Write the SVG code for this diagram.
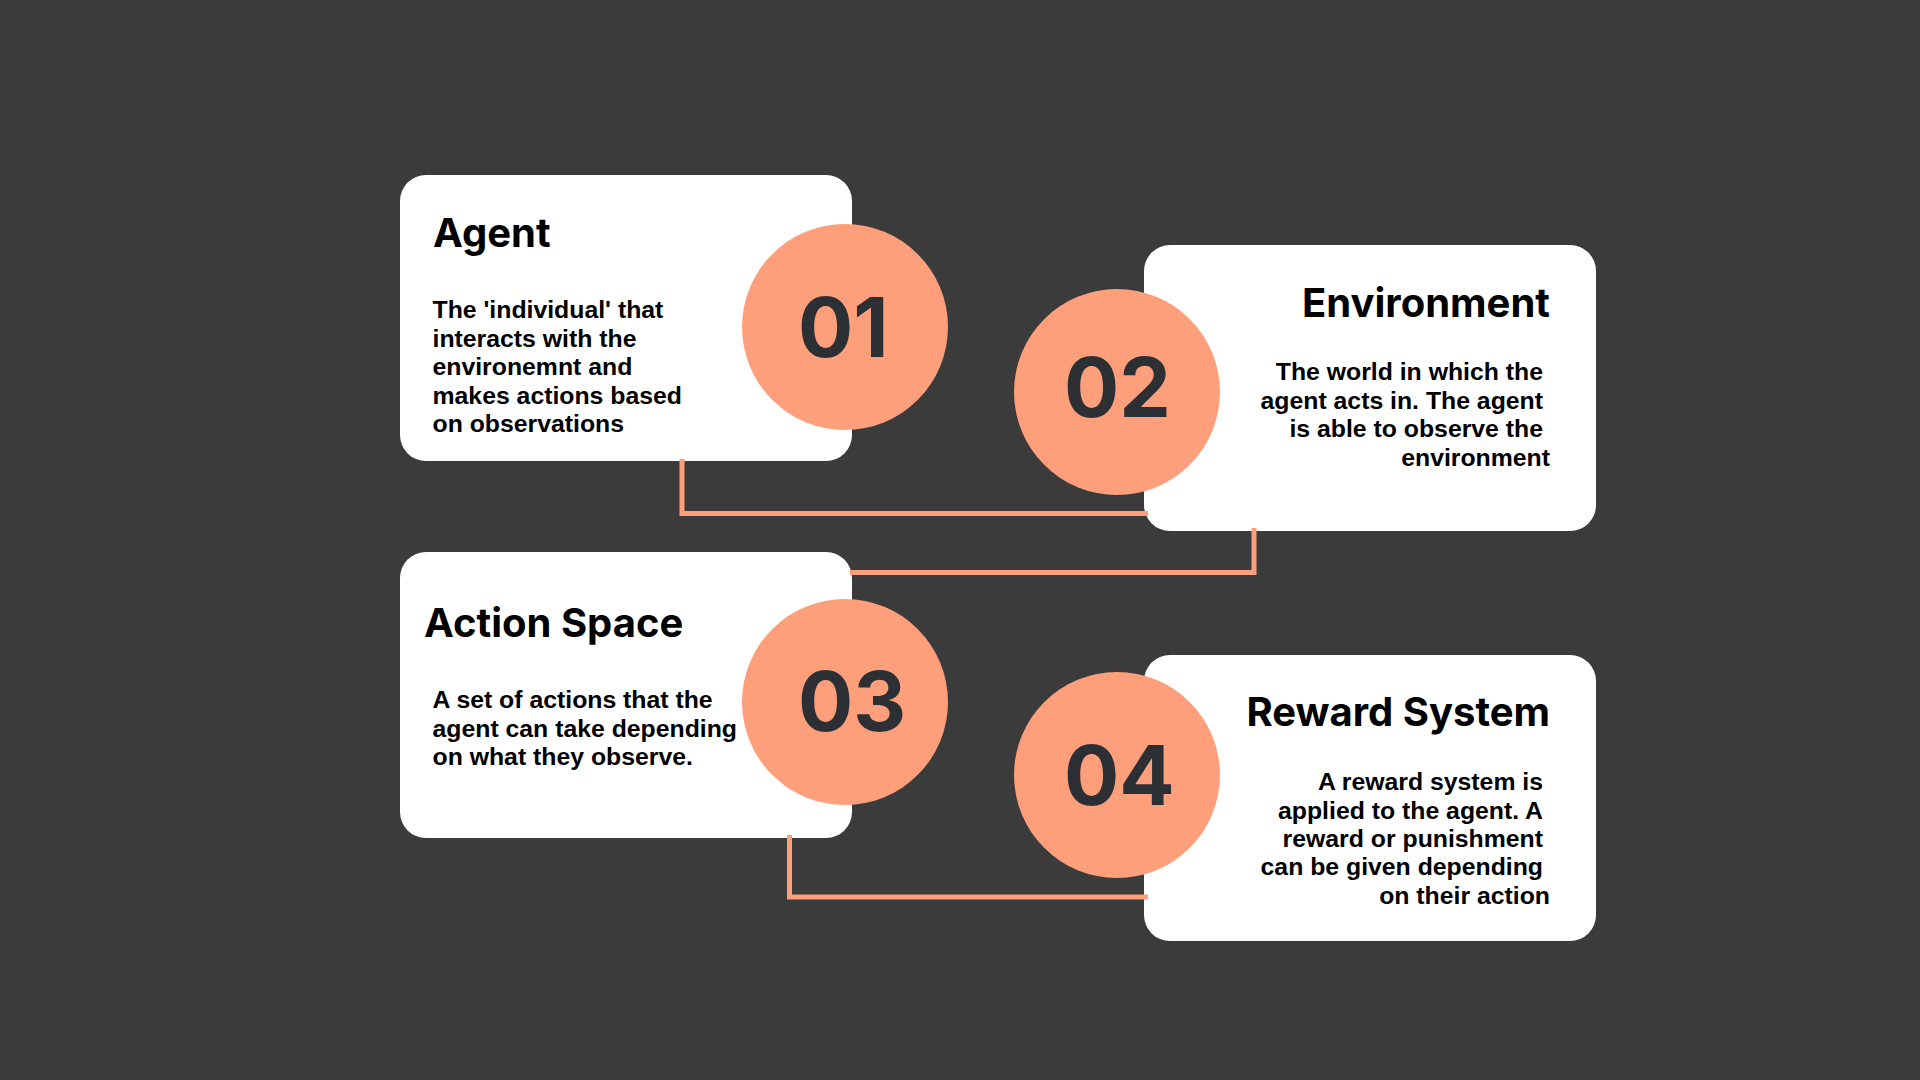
<svg xmlns="http://www.w3.org/2000/svg" width="1920" height="1080" viewBox="0 0 1920 1080">
<style>
.card{fill:#ffffff}
.dot{fill:#fe9f7b}
.num{font-family:Inter,"Liberation Sans",sans-serif;font-weight:700;font-size:82px;fill:#2c3034}
.title{font-family:Inter,"Liberation Sans",sans-serif;font-weight:700;font-size:40px;fill:#000}
.body{font-family:"Liberation Sans",Arial,sans-serif;font-weight:700;font-size:24.8px;fill:#000}
.r{text-anchor:end}
.conn{fill:none;stroke:#fe9f7b;stroke-width:5}
</style>
<rect width="1920" height="1080" fill="#3b3b3b"/>
<g id="node-agent">
<rect class="card" x="400" y="175" width="452" height="286" rx="26"/>
<circle class="dot" cx="845" cy="327" r="103"/>
<text class="num" x="798" y="357">01</text>
<text class="title" x="433" y="247">Agent</text>
<text class="body" x="432.5" y="318">The 'individual' that</text>
<text class="body" x="432.5" y="346.5">interacts with the</text>
<text class="body" x="432.5" y="375">environemnt and</text>
<text class="body" x="432.5" y="403.5">makes actions based</text>
<text class="body" x="432.5" y="432">on observations</text>
</g>
<g id="node-environment">
<rect class="card" x="1144" y="245" width="452" height="286" rx="26"/>
<circle class="dot" cx="1117" cy="392" r="103"/>
<text class="num" x="1064" y="417">02</text>
<text class="title r" x="1550" y="317">Environment</text>
<text class="body r" x="1543" y="380">The world in which the</text>
<text class="body r" x="1543" y="408.5">agent acts in. The agent</text>
<text class="body r" x="1543" y="437">is able to observe the</text>
<text class="body r" x="1550" y="465.5">environment</text>
</g>
<g id="node-action-space">
<rect class="card" x="400" y="552" width="452" height="286" rx="26"/>
<circle class="dot" cx="845" cy="702" r="103"/>
<text class="num" x="798" y="731">03</text>
<text class="title" x="424" y="637">Action Space</text>
<text class="body" x="432.5" y="708">A set of actions that the</text>
<text class="body" x="432.5" y="736.5">agent can take depending</text>
<text class="body" x="432.5" y="765">on what they observe.</text>
</g>
<g id="node-reward-system">
<rect class="card" x="1144" y="655" width="452" height="286" rx="26"/>
<circle class="dot" cx="1117" cy="775" r="103"/>
<text class="num" x="1064" y="805">04</text>
<text class="title r" x="1550" y="726">Reward System</text>
<text class="body r" x="1543" y="790">A reward system is</text>
<text class="body r" x="1543" y="818.5">applied to the agent. A</text>
<text class="body r" x="1543" y="847">reward or punishment</text>
<text class="body r" x="1543" y="875">can be given depending</text>
<text class="body r" x="1550" y="903.5">on their action</text>
</g>
<g id="connectors">
<polyline class="conn" points="682,459 682,513.5 1148,513.5"/>
<polyline class="conn" points="1254,528 1254,572.5 850,572.5"/>
<polyline class="conn" points="789.5,835 789.5,897 1148,897"/>
</g>
</svg>
